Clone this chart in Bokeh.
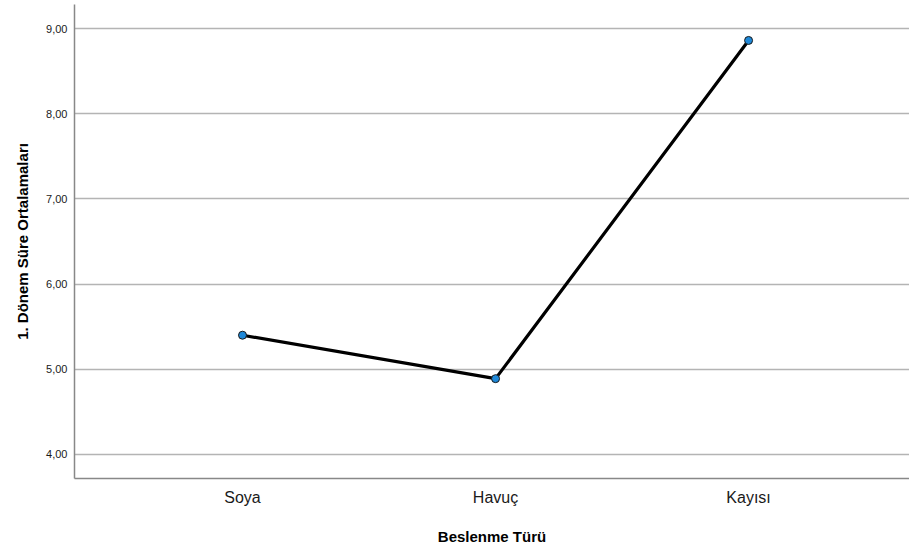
from bokeh.plotting import figure
from bokeh.models import FixedTicker, Range1d
from bokeh.embed import file_html
from bokeh.resources import INLINE

categories = ["Soya", "Havuç", "Kayısı"]
means = [5.40, 4.89, 8.86]
y_ticks = [4, 5, 6, 7, 8, 9]
y_tick_labels = ["4,00", "5,00", "6,00", "7,00", "8,00", "9,00"]

xs = list(range(1, len(categories) + 1))

p = figure(width=909, height=551, output_backend="svg", toolbar_location=None,
           x_range=Range1d(0.336, 3.636), y_range=Range1d(3.718, 9.282),
           min_border_left=74, min_border_right=0, min_border_top=4, min_border_bottom=73)
p.outline_line_color = None
p.background_fill_color = "white"

p.line(xs, means, line_color="black", line_width=3.2)
p.scatter(xs, means, size=8, fill_color="#1e88d8", line_color="#1a1a1a", line_width=1)

# x axis
p.xaxis.ticker = FixedTicker(ticks=xs)
p.xaxis.major_label_overrides = {x: c for x, c in zip(xs, categories)}
p.xaxis.major_tick_line_color = None
p.xaxis.major_tick_out = 0
p.xaxis.major_tick_in = 0
p.xaxis.minor_tick_line_color = None
p.xaxis.axis_line_color = "#888888"
p.xaxis.axis_line_width = 1.5
p.xaxis.major_label_text_font = "Liberation Sans"
p.xaxis.major_label_text_font_size = "16px"
p.xaxis.major_label_text_color = "#1a1a1a"
p.xaxis.major_label_standoff = 10
p.xaxis.axis_label = "Beslenme Türü"
p.xaxis.axis_label_text_font = "Liberation Sans"
p.xaxis.axis_label_text_font_style = "bold"
p.xaxis.axis_label_text_font_size = "15px"
p.xaxis.axis_label_text_color = "#000000"
p.xaxis.axis_label_standoff = 19
p.xgrid.grid_line_color = None

# y axis
p.yaxis.ticker = FixedTicker(ticks=y_ticks)
p.yaxis.major_label_overrides = {t: l for t, l in zip(y_ticks, y_tick_labels)}
p.yaxis.major_tick_line_color = None
p.yaxis.major_tick_out = 0
p.yaxis.major_tick_in = 0
p.yaxis.minor_tick_line_color = None
p.yaxis.axis_line_color = "#888888"
p.yaxis.axis_line_width = 1.5
p.yaxis.major_label_text_font = "Liberation Sans"
p.yaxis.major_label_text_font_size = "11px"
p.yaxis.major_label_text_color = "#1a1a1a"
p.yaxis.major_label_standoff = 7
p.yaxis.axis_label = "1. Dönem Süre Ortalamaları"
p.yaxis.axis_label_text_font = "Liberation Sans"
p.yaxis.axis_label_text_font_style = "bold"
p.yaxis.axis_label_text_font_size = "15px"
p.yaxis.axis_label_text_color = "#000000"
p.yaxis.axis_label_standoff = 12
p.ygrid.grid_line_color = "#b4b4b4"
p.ygrid.grid_line_width = 1.5

open("out.html", "w").write(file_html(p, INLINE))
